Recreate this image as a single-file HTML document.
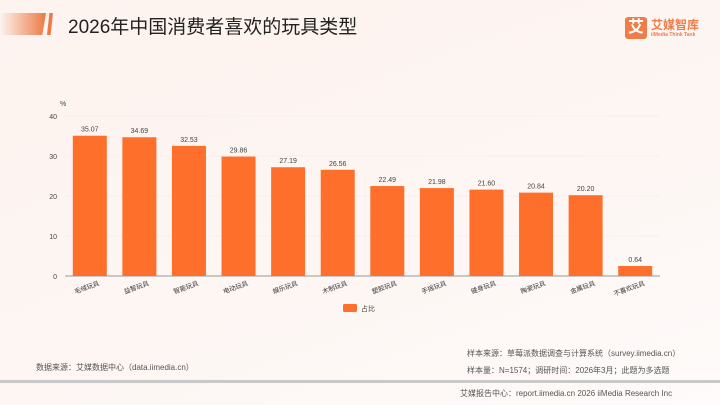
<!DOCTYPE html>
<html><head><meta charset="utf-8"><style>
body{margin:0;width:720px;height:405px;overflow:hidden;font-family:"Liberation Sans","Noto Sans CJK SC",sans-serif;}
#bg{position:absolute;left:0;top:0;width:720px;height:405px;background:linear-gradient(160deg,#fdf3ef 0%,#fdf6f3 60%,#fefbfa 100%);}
.t{position:absolute;white-space:nowrap;}
</style></head><body>
<div id="bg"></div>
<div class="t" style="left:0;top:13px;width:46px;height:22px;background:linear-gradient(90deg,#fdf3ef,#ec7a45);clip-path:polygon(0 0,100% 0,92% 100%,0 100%);"></div>
<div class="t" style="left:47px;top:13px;width:6px;height:22px;background:#ec7a45;clip-path:polygon(40% 0,100% 0,60% 100%,0 100%);"></div>
<div class="t" style="left:68px;top:12px;font-size:19px;color:#222;">2026年中国消费者喜欢的玩具类型</div>
<div class="t" style="left:625px;top:17px;width:22px;height:22px;background:#ee7d48;border-radius:3px;color:#fff;font-size:16px;font-weight:bold;text-align:center;line-height:22px;">艾</div>
<div class="t" style="left:651px;top:16px;font-size:12px;font-weight:bold;color:#ee7d48;">艾媒智库</div>
<div class="t" style="left:651px;top:32px;font-size:5px;font-weight:bold;color:#ee7d48;">iiMedia Think Tank</div>
<svg id="chart" width="720" height="405" style="position:absolute;left:0;top:0"></svg>
<div class="t" style="left:36px;top:362px;font-size:8px;color:#555;">数据来源：艾媒数据中心（data.iimedia.cn）</div>
<div class="t" style="left:467px;top:348px;font-size:8px;color:#555;">样本来源：草莓派数据调查与计算系统（survey.iimedia.cn）</div>
<div class="t" style="left:467px;top:365px;font-size:8px;color:#555;">样本量：N=1574；调研时间：2026年3月；此题为多选题</div>
<div class="t" style="left:0;top:380px;width:720px;height:3px;background:#c9c9c9;"></div>
<div class="t" style="left:460px;top:388px;font-size:8px;color:#555;">艾媒报告中心：report.iimedia.cn  2026 iiMedia Research Inc</div>
<script>
const categories=["毛绒玩具","益智玩具","智能玩具","电动玩具","娱乐玩具","木制玩具","塑胶玩具","手摇玩具","健身玩具","陶瓷玩具","金属玩具","不喜欢玩具"];
const values=[35.07,34.69,32.53,29.86,27.19,26.56,22.49,21.98,21.60,20.84,20.20,0.64];
const ticks=[0,10,20,30,40];
const svg=document.getElementById('chart');
const NS='http://www.w3.org/2000/svg';
const x0=65,x1=660,yb=276,yt=116,ymax=40;
const y=v=>yb-(yb-yt)*v/ymax;
const step=(x1-x0)/categories.length;
const xc=i=>x0+step*(i+0.5);
function mk(tag,attrs,txt){const e=document.createElementNS(NS,tag);for(const k in attrs)e.setAttribute(k,attrs[k]);if(txt!==undefined)e.textContent=txt;svg.appendChild(e);return e;}
ticks.forEach(t=>{
 const g=mk('line',{x1:x0,x2:x1,y1:y(t),y2:y(t),stroke:t?'#ececec':'#999','stroke-width':t?0.6:1});
 
 
 const l=mk('text',{x:x0-8,y:y(t)+3,'font-size':7,fill:'#444','text-anchor':'end'},t);
 
 
});
const u=mk('text',{x:60,y:106,'font-size':7,fill:'#444'},'%');


const bw=34;
values.forEach((v,i)=>{
 const h=Math.max(yb-y(v),10);
 const r=mk('rect',{x:xc(i)-bw/2,y:yb-h,width:bw,height:h,fill:'#fe6f2b'});
 
 
 const t=mk('text',{x:xc(i),y:yb-h-4,'font-size':7,fill:'#444','text-anchor':'middle'},v.toFixed(2));
 
 
 const c=mk('text',{x:xc(i)+10,y:yb+9,'font-size':6.5,fill:'#333','text-anchor':'end',transform:`rotate(-20 ${xc(i)+10} ${yb+9})`},categories[i]);
 
 
});
const lg=mk('rect',{x:343,y:304,width:14,height:8,rx:1.5,fill:'#fe6f2b'});


const lt=mk('text',{x:361,y:311,'font-size':7,fill:'#444'},'占比');


</script>
</body></html>
